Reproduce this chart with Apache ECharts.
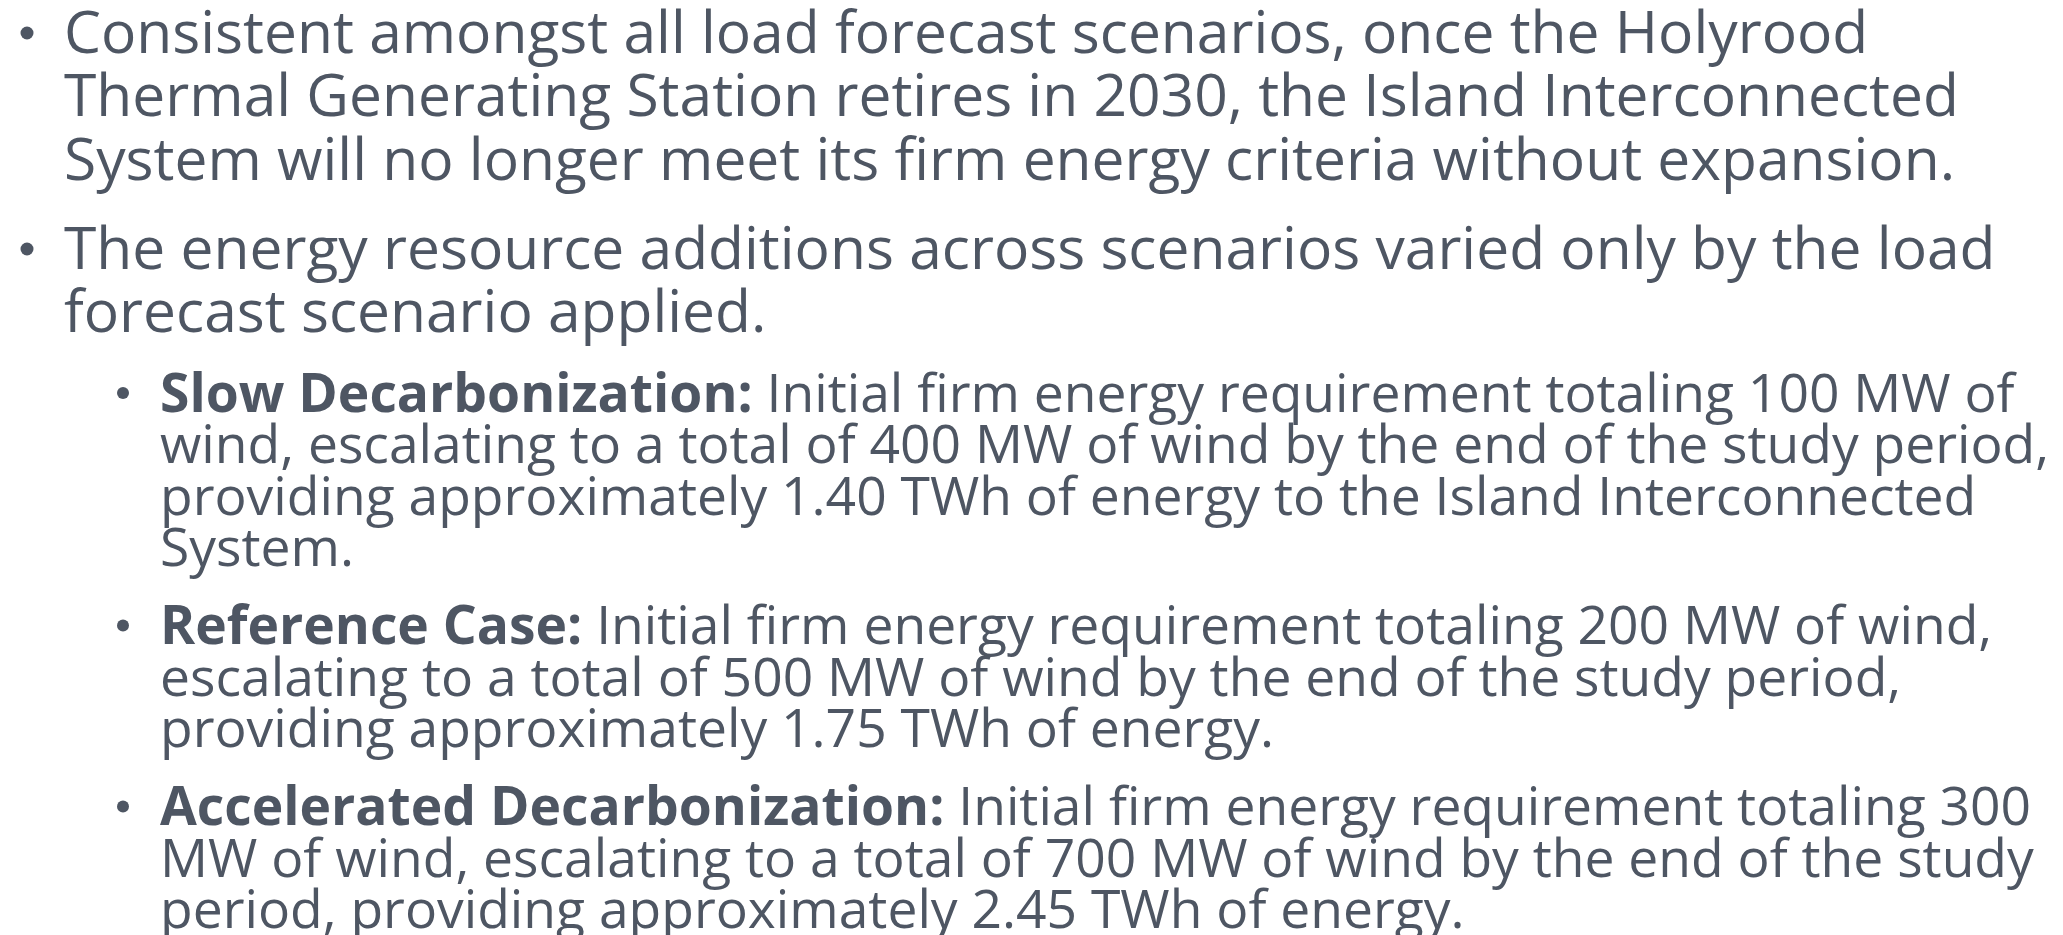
<!DOCTYPE html>
<html>
<head>
<meta charset="utf-8">
<script src="https://cdn.jsdelivr.net/npm/echarts@6/dist/echarts.min.js"></script>
<style>
html,body{margin:0;padding:0;background:#ffffff;}
#chart{width:2063px;height:935px;}
</style>
</head>
<body>
<div id="chart"></div>
<script>
// ---- content ----
const mainLines = [
  "Consistent amongst all load forecast scenarios, once the Holyrood",
  "Thermal Generating Station retires in 2030, the Island Interconnected",
  "System will no longer meet its firm energy criteria without expansion.",
  "The energy resource additions across scenarios varied only by the load",
  "forecast scenario applied."
];
const mainBulletStarts = [0, 3];

const subBold = ["Slow Decarbonization:", "Reference Case:", "Accelerated Decarbonization:"];
const subLines = [
  [" Initial firm energy requirement totaling 100 MW of",
   "wind, escalating to a total of 400 MW of wind by the end of the study period,",
   "providing approximately 1.40 TWh of energy to the Island Interconnected",
   "System."],
  [" Initial firm energy requirement totaling 200 MW of wind,",
   "escalating to a total of 500 MW of wind by the end of the study period,",
   "providing approximately 1.75 TWh of energy."],
  [" Initial firm energy requirement totaling 300",
   "MW of wind, escalating to a total of 700 MW of wind by the end of the study",
   "period, providing approximately 2.45 TWh of energy."]
];

// ---- layout / style ----
const COLOR = '#4e5663';
const FONT = '"Open Sans", "Noto Sans", sans-serif';
const MAIN = {size: 59, x: 64, bulletX: 27, bulletR: 6.5, bulletUp: 20, firstBase: 53, lineGap: 63.5, paraGap: 25.5, scaleX: 0.995};
const SUB = {size: 53.4, x: 160, bulletX: 123, bulletR: 6, bulletUp: 19, firstBase: 412, lineGap: 51.5, paraGap: 26.5, scaleX: 1};
const BASE_K = 0.215; // bottom-of-box -> baseline offset (em)

const graphics = [];
function addBullet(x, y, r){
  graphics.push({type:'circle', shape:{cx:x, cy:y, r:r}, style:{fill: COLOR}});
}
function addLine(cfg, base, txt, rich){
  graphics.push({
    type: 'text', x: cfg.x, y: base + BASE_K*cfg.size, scaleX: cfg.scaleX,
    style: {text: txt, rich: rich, fill: COLOR, fontFamily: FONT, fontSize: cfg.size,
            verticalAlign: 'bottom', align: 'left', lineHeight: cfg.size}
  });
}

// main level
let base = MAIN.firstBase;
mainLines.forEach((ln, i) => {
  if (i > 0) { base += MAIN.lineGap; if (mainBulletStarts.includes(i)) base += MAIN.paraGap; }
  if (mainBulletStarts.includes(i)) addBullet(MAIN.bulletX, base - MAIN.bulletUp, MAIN.bulletR);
  addLine(MAIN, base, ln, undefined);
});

// sub level
const richSub = {
  b: {fontFamily: FONT, fontSize: SUB.size, fontWeight: 'bold', fill: COLOR, lineHeight: SUB.size},
  r: {fontFamily: FONT, fontSize: SUB.size, fill: COLOR, lineHeight: SUB.size}
};
let sb = SUB.firstBase;
subLines.forEach((para, p) => {
  if (p > 0) sb += SUB.lineGap + SUB.paraGap;
  para.forEach((ln, j) => {
    if (j > 0) sb += SUB.lineGap;
    let txt;
    if (j === 0) {
      addBullet(SUB.bulletX, sb - SUB.bulletUp, SUB.bulletR);
      txt = '{b|' + subBold[p] + '}{r|' + ln + '}';
    } else {
      txt = '{r|' + ln + '}';
    }
    addLine(SUB, sb, txt, richSub);
  });
});

const chart = echarts.init(document.getElementById('chart'), null, {renderer: 'canvas'});
chart.setOption({
  backgroundColor: '#ffffff',
  animation: false,
  graphic: {elements: graphics}
});
</script>
</body>
</html>
